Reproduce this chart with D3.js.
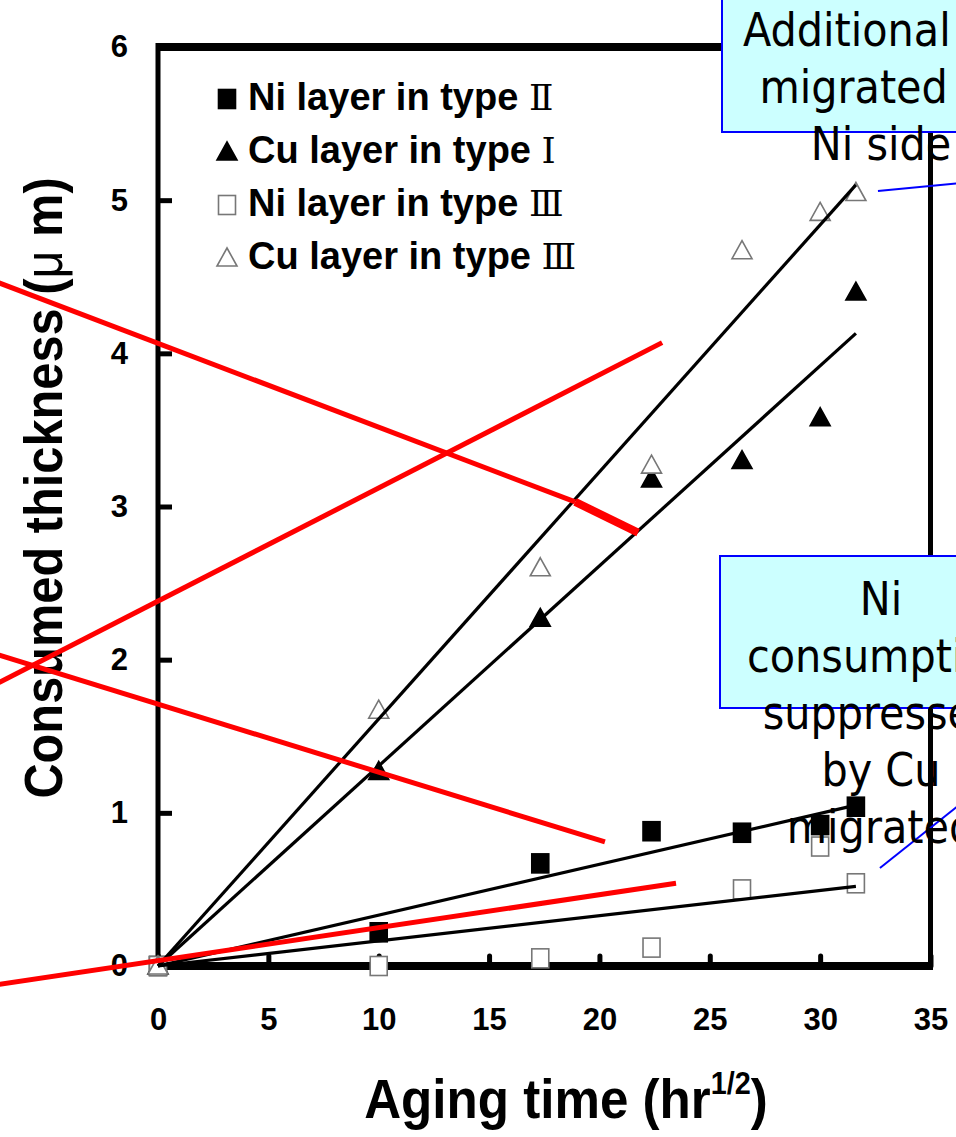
<!DOCTYPE html>
<html>
<head>
<meta charset="utf-8">
<script src="https://cdn.jsdelivr.net/npm/d3@7"></script>
<style>
	body { margin: 0; background: #fff; }
	text { font-family: 'Liberation Sans', Arial, sans-serif; }
</style>
</head>
<body>
<svg id="chart" width="956" height="1137"></svg>
<script>
// tick labels
const xTicks = [0, 5, 10, 15, 20, 25, 30, 35];
const yTicks = [0, 1, 2, 3, 4, 5, 6];

// aging time (hr^1/2) of every measurement
const agingTimes = [0, 10, 17.32, 22.36, 26.46, 30, 31.62];

// consumed thickness (um), one list per series
const niTypeII = [0, 0.22, 0.67, 0.88, 0.87, 0.92, 1.04];
const cuTypeI = [0, 1.27, 2.27, 3.18, 3.3, 3.58, 4.4];
const niTypeIII = [0, 0, 0.05, 0.12, 0.5, 0.78, 0.54];
const cuTypeIII = [0, 1.67, 2.6, 3.27, 4.67, 4.92, 5.05];

// fitted lines: value at the last aging time
const fitEnd = [1.05, 4.13, 0.52, 5.1];

const seriesNames = ['Ni layer in type', 'Cu layer in type', 'Ni layer in type', 'Cu layer in type'];
const seriesTypes = ['\u2161', '\u2160', '\u2162', '\u2162'];

// red marks drawn over the figure [x1, y1, x2, y2] in data units
const redLines = [
	[-7.2, 4.46, 18.9, 3.03],
	[-7.2, 1.85, 22.84, 4.07],
	[-7.2, 2.03, 20.25, 0.81],
	[-7.2, -0.12, 23.47, 0.54]
];
const redThick = [[18.9, 3.03, 21.75, 2.83]];

// blue leader lines of the call-outs
const leaderLines = [
	[32.62, 5.06, 36.2, 5.11],
	[32.71, 0.64, 36.2, 1.04]
];

const callouts = [
	{ lines: ['Additional Cu', 'migrated to', 'Ni side'], box: [722, -4, 300, 136], first: 46 },
	{ lines: ['Ni', 'consumption', 'suppressed', 'by Cu', 'migrated'], box: [720, 556, 300, 152], first: 615 }
];

const svg = d3.select('#chart');
svg.append('rect').attr('width', 956).attr('height', 1137).attr('fill', '#fff');

const x = d3.scaleLinear().domain([0, 35]).range([158, 930.5]);
const y = d3.scaleLinear().domain([0, 6]).range([966, 47]);

const series = [niTypeII, cuTypeI, niTypeIII, cuTypeIII].map((vals, i) => ({
	name: seriesNames[i],
	type: seriesTypes[i],
	shape: i % 2 === 0 ? 'square' : 'triangle',
	filled: i < 2,
	points: agingTimes.map((t, j) => [t, vals[j]]),
	fit: [[0, 0], [agingTimes[agingTimes.length - 1], fitEnd[i]]]
}));

// axes, ticks pointing inward
const xAxis = svg.append('g')
	.attr('transform', `translate(0,${y(0)})`)
	.call(d3.axisBottom(x).tickValues(xTicks).tickFormat(d3.format('d')).tickSize(-10).tickPadding(42));
const yAxis = svg.append('g')
	.attr('transform', `translate(${x(0)},0)`)
	.call(d3.axisLeft(y).tickValues(yTicks).tickFormat(d3.format('d')).tickSize(-14).tickPadding(30));

[xAxis, yAxis].forEach(a => {
	a.select('.domain').remove();
	a.selectAll('text')
		.attr('fill', '#000')
		.style('font-size', '31px')
		.style('font-weight', 'bold')
		.style('font-family', "'Liberation Sans', Arial, sans-serif");
});
xAxis.selectAll('line').attr('stroke', '#000').attr('stroke-width', 5).attr('stroke-linecap', 'round');
yAxis.selectAll('line').attr('stroke', '#000').attr('stroke-width', 5);

// frame
const frame = svg.append('g').attr('stroke', '#000').attr('fill', 'none');
frame.append('line').attr('x1', x(0)).attr('x2', x(0)).attr('y1', y(6) - 4).attr('y2', y(0) + 4).attr('stroke-width', 5);
frame.append('line').attr('x1', x(35)).attr('x2', x(35)).attr('y1', y(6) - 4).attr('y2', y(0) + 4).attr('stroke-width', 5);
frame.append('line').attr('x1', x(0) - 2).attr('x2', x(35) + 2).attr('y1', y(6)).attr('y2', y(6)).attr('stroke-width', 8);
frame.append('line').attr('x1', x(0) - 2).attr('x2', x(35) + 2).attr('y1', y(0)).attr('y2', y(0)).attr('stroke-width', 8);

function drawMarker(g, s, cx, cy) {
	const fill = s.filled ? '#000' : '#fff';
	const stroke = s.filled ? '#000' : '#777';
	if (s.shape === 'square') {
		g.append('rect')
			.attr('x', cx - 8.5).attr('y', cy - 9.5)
			.attr('width', 17).attr('height', 19)
			.attr('fill', fill).attr('stroke', stroke).attr('stroke-width', 1.6);
	} else {
		g.append('path')
			.attr('d', `M${cx},${cy - 10}L${cx + 10},${cy + 8}L${cx - 10},${cy + 8}Z`)
			.attr('fill', fill).attr('stroke', stroke).attr('stroke-width', 1.6);
	}
}

// data points
const pts = svg.append('g');
series.forEach(s => {
	s.points.forEach(p => drawMarker(pts, s, x(p[0]), y(p[1])));
});

// fitted lines
const line = d3.line().x(d => x(d[0])).y(d => y(d[1]));
svg.append('g').selectAll('path')
	.data(series)
	.join('path')
	.attr('d', d => line(d.fit))
	.attr('fill', 'none')
	.attr('stroke', '#000')
	.attr('stroke-width', 3.2);

// legend
const legend = svg.append('g');
series.forEach((s, i) => {
	const cy = 99 + i * 53;
	drawMarker(legend, s, 227, cy);
	const t = legend.append('text')
		.attr('x', 248).attr('y', cy + 11)
		.style('font-size', '38px').style('font-weight', 'bold')
		.text(s.name + ' ');
	t.append('tspan')
		.style('font-family', "'DejaVu Serif', 'Liberation Serif', serif")
		.style('font-weight', 'normal')
		.style('font-size', '36px')
		.text(s.type);
});

// axis titles
const xt = svg.append('g').attr('transform', 'translate(566,1118) scale(0.93,1)')
	.append('text')
	.attr('text-anchor', 'middle')
	.style('font-size', '55px').style('font-weight', 'bold');
xt.append('tspan').text('Aging time (hr');
xt.append('tspan').attr('dy', -24).style('font-size', '31px').text('1/2');
xt.append('tspan').attr('dy', 24).text(')');

const yt = svg.append('g').attr('transform', 'translate(62,488) rotate(-90) scale(0.92,1)')
	.append('text')
	.attr('text-anchor', 'middle')
	.style('font-size', '53px').style('font-weight', 'bold');
yt.append('tspan').text('Consumed thickness (');
yt.append('tspan').style('font-weight', 'normal').text('\u03bc');
yt.append('tspan').text(' m)');

// red overlay marks
const red = svg.append('g').attr('stroke', '#ff0000').attr('stroke-linecap', 'butt');
red.selectAll('.thin').data(redLines).join('line').attr('class', 'thin')
	.attr('x1', d => x(d[0])).attr('y1', d => y(d[1]))
	.attr('x2', d => x(d[2])).attr('y2', d => y(d[3]))
	.attr('stroke-width', 5);
red.selectAll('.thick').data(redThick).join('line').attr('class', 'thick')
	.attr('x1', d => x(d[0])).attr('y1', d => y(d[1]))
	.attr('x2', d => x(d[2])).attr('y2', d => y(d[3]))
	.attr('stroke-width', 8);

// call-outs
const notes = svg.append('g');
callouts.forEach(c => {
	notes.append('rect')
		.attr('x', c.box[0]).attr('y', c.box[1])
		.attr('width', c.box[2]).attr('height', c.box[3])
		.attr('fill', '#ccffff').attr('stroke', '#0000ff').attr('stroke-width', 2);
});
notes.selectAll('.leader').data(leaderLines).join('line').attr('class', 'leader')
	.attr('x1', d => x(d[0])).attr('y1', d => y(d[1]))
	.attr('x2', d => x(d[2])).attr('y2', d => y(d[3]))
	.attr('stroke', '#0000ff').attr('stroke-width', 2);
callouts.forEach(c => {
	c.lines.forEach((l, i) => {
		notes.append('text')
			.attr('x', 881).attr('y', c.first + i * 57)
			.attr('text-anchor', 'middle')
			.style('font-family', "'DejaVu Sans Condensed', 'DejaVu Sans', sans-serif")
			.style('font-stretch', 'condensed')
			.style('font-size', '46px')
			.text(l);
	});
});
</script>
</body>
</html>
